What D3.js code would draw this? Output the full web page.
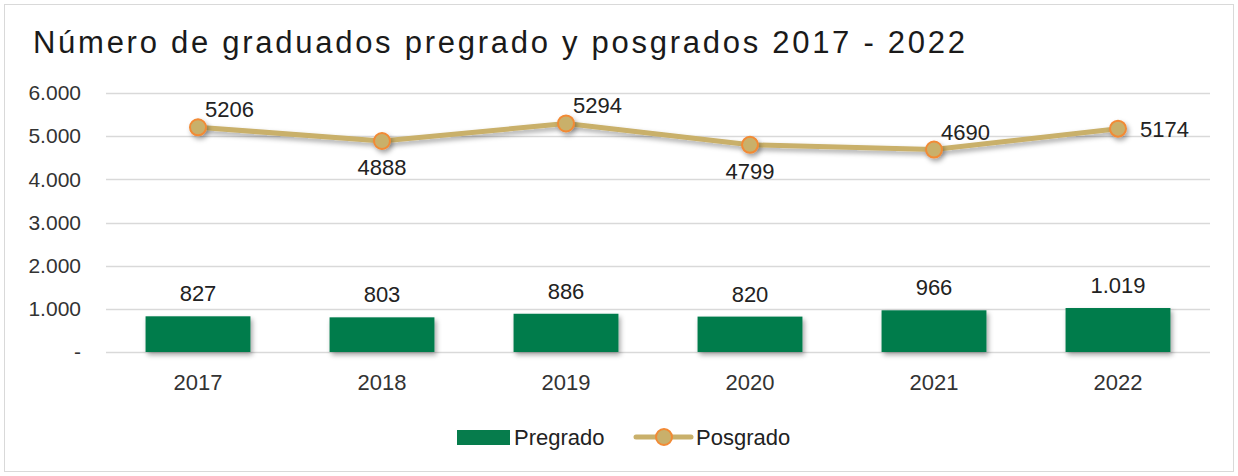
<!DOCTYPE html>
<html>
<head>
<meta charset="utf-8">
<script src="https://d3js.org/d3.v7.min.js"></script>
<style>
  body { margin: 0; background: #fff; }
  text { font-family: "Liberation Sans", Arial, sans-serif; }
</style>
</head>
<body>
<svg id="chart" width="1238" height="476"></svg>
<script>
// data
var years = ["2017", "2018", "2019", "2020", "2021", "2022"];
var pregrado = [827, 803, 886, 820, 966, 1019];
var posgrado = [5206, 4888, 5294, 4799, 4690, 5174];
var yTicks = [0, 1000, 2000, 3000, 4000, 5000, 6000];
// where each posgrado label sits relative to its point
var posLabelSide = ["up", "down", "up", "down", "up", "right"];

var svg = d3.select("#chart");
var W = 1238, H = 476;
var margin = {left: 106, right: 28, top: 93, bottom: 124};
var fmt = function(d){ return d3.format(",")(d).replace(/,/g, "."); };

// shadow filter
var defs = svg.append("defs");
var f = defs.append("filter").attr("id", "shadow")
  .attr("x", "-20%").attr("y", "-50%").attr("width", "140%").attr("height", "200%");
f.append("feDropShadow").attr("dx", 2).attr("dy", 3).attr("stdDeviation", 2.5)
  .attr("flood-color", "#000").attr("flood-opacity", 0.35);

// outer border
svg.append("rect").attr("x", 4.5).attr("y", 4.5).attr("width", W - 9).attr("height", H - 9)
  .attr("fill", "#fff").attr("stroke", "#d9d9d9").attr("stroke-width", 1);

svg.append("text").attr("x", 33).attr("y", 53)
  .attr("font-size", 31).attr("fill", "#1a1a1a")
  .attr("textLength", 932).attr("lengthAdjust", "spacing")
  .text("Número de graduados pregrado y posgrados 2017 - 2022");

var x = d3.scaleBand().domain(years).range([margin.left, W - margin.right]).paddingInner(0.43).paddingOuter(0.215);
var y = d3.scaleLinear().domain([0, 6000]).range([H - margin.bottom, margin.top]);

// gridlines
svg.append("g").selectAll("line").data(yTicks).join("line")
  .attr("x1", margin.left).attr("x2", W - margin.right)
  .attr("y1", function(d){ return Math.round(y(d)) + 0.5; })
  .attr("y2", function(d){ return Math.round(y(d)) + 0.5; })
  .attr("stroke", "#d9d9d9").attr("stroke-width", 1.5);

// y axis
var yAxis = svg.append("g").attr("transform", "translate(" + (margin.left - 25) + ",0)")
  .call(d3.axisLeft(y).tickValues(yTicks).tickSize(0).tickPadding(0)
    .tickFormat(function(d){ return d === 0 ? "-" : fmt(d); }));
yAxis.select(".domain").remove();
yAxis.selectAll("text").attr("font-size", 21).attr("fill", "#333")
  .style("font-family", "'Liberation Sans', Arial, sans-serif");

// x axis
var xAxis = svg.append("g").attr("transform", "translate(0," + (H - margin.bottom) + ")")
  .call(d3.axisBottom(x).tickSize(0).tickPadding(22));
xAxis.select(".domain").remove();
xAxis.selectAll("text").attr("font-size", 22).attr("fill", "#333")
  .style("font-family", "'Liberation Sans', Arial, sans-serif");

// bars
svg.append("g").attr("filter", "url(#shadow)").selectAll("rect").data(pregrado).join("rect")
  .attr("x", function(d, i){ return x(years[i]); })
  .attr("width", x.bandwidth())
  .attr("y", function(d){ return y(d); })
  .attr("height", function(d){ return y(0) - y(d); })
  .attr("fill", "#067c4c");

svg.append("g").selectAll("text").data(pregrado).join("text")
  .attr("x", function(d, i){ return x(years[i]) + x.bandwidth() / 2; })
  .attr("y", function(d){ return y(d) - 15; })
  .attr("text-anchor", "middle").attr("font-size", 22).attr("fill", "#222")
  .text(fmt);

// line
var cx = function(i){ return x(years[i]) + x.bandwidth() / 2; };
var line = d3.line().x(function(d, i){ return cx(i); }).y(function(d){ return y(d); });
svg.append("path").datum(posgrado).attr("d", line)
  .attr("fill", "none").attr("stroke", "#c9b06b").attr("stroke-width", 5)
  .attr("stroke-linejoin", "round").attr("filter", "url(#shadow)");

svg.append("g").attr("filter", "url(#shadow)").selectAll("circle").data(posgrado).join("circle")
  .attr("cx", function(d, i){ return cx(i); })
  .attr("cy", function(d){ return y(d); })
  .attr("r", 8).attr("fill", "#c9b06b").attr("stroke", "#f28a35").attr("stroke-width", 2);

svg.append("g").selectAll("text").data(posgrado).join("text")
  .attr("x", function(d, i){
    var s = posLabelSide[i];
    return s === "down" ? cx(i) : cx(i) + (s === "right" ? 22 : 7); })
  .attr("y", function(d, i){
    var s = posLabelSide[i];
    return s === "up" ? y(d) - 10 : s === "down" ? y(d) + 34 : y(d) + 8; })
  .attr("text-anchor", function(d, i){ return posLabelSide[i] === "down" ? "middle" : "start"; })
  .attr("font-size", 22).attr("fill", "#222")
  .text(function(d){ return d; });

// legend
var lg = svg.append("g").attr("transform", "translate(0,437)");
lg.append("rect").attr("x", 457).attr("y", -7).attr("width", 53).attr("height", 15).attr("fill", "#067c4c");
lg.append("text").attr("x", 514).attr("y", 8).attr("font-size", 22).attr("fill", "#222").text("Pregrado");
lg.append("line").attr("x1", 636).attr("x2", 691).attr("y1", 0).attr("y2", 0)
  .attr("stroke", "#c9b06b").attr("stroke-width", 5).attr("stroke-linecap", "round");
lg.append("circle").attr("cx", 664).attr("cy", 0).attr("r", 8)
  .attr("fill", "#c9b06b").attr("stroke", "#f28a35").attr("stroke-width", 2);
lg.append("text").attr("x", 696).attr("y", 8).attr("font-size", 22).attr("fill", "#222").text("Posgrado");
</script>
</body>
</html>
